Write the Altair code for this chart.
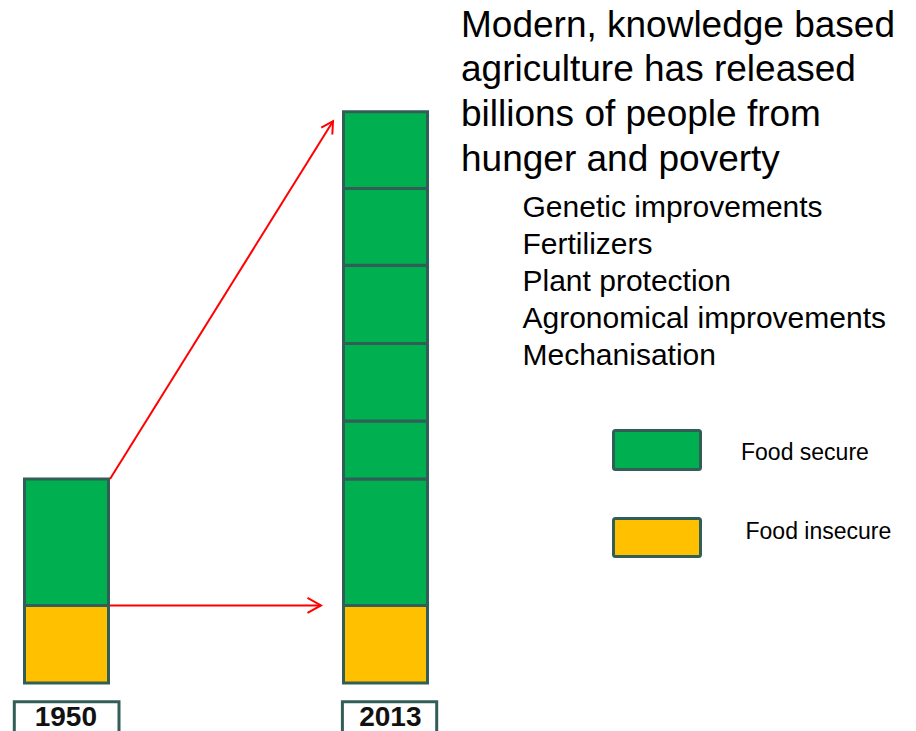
import altair as alt
import pandas as pd

# ---------------- data (billions of people) ----------------
years = ["1950", "2013"]
categories = ["Food secure", "Food insecure"]
food_insecure = [0.95, 0.95]
food_secure_1950 = [1.55]
food_secure_2013 = [1.55, 0.71, 0.95, 0.96, 0.94, 0.94]

title_lines = ["Modern, knowledge based", "agriculture has released",
               "billions of people from", "hunger and poverty"]
factor_lines = ["Genetic improvements", "Fertilizers", "Plant protection",
                "Agronomical improvements", "Mechanisation"]

# ---------------- styles ----------------
COLORS = {"Food secure": "#00B050", "Food insecure": "#FFC000"}
STROKE = "#325E58"
RED = "#FF0000"
FONT = "Liberation Sans"
W, H = 900, 723
CHEVRON = "M-1.8,-1L0,0L-1.8,1"

rows = []
secure_by_year = {"1950": food_secure_1950, "2013": food_secure_2013}
for i, yr in enumerate(years):
    rows.append({"year": yr, "seg": 0, "category": "Food insecure", "value": food_insecure[i]})
    for j, v in enumerate(secure_by_year[yr]):
        rows.append({"year": yr, "seg": j + 1, "category": "Food secure", "value": v})
df = pd.DataFrame(rows)

total_1950 = food_insecure[0] + sum(food_secure_1950)
total_2013 = food_insecure[1] + sum(food_secure_2013)

xs = alt.Scale(type="point", domain=years, range=[58.5, 377.5], padding=0)
ys = alt.Scale(domain=[-0.5882, 8.2721], nice=False, zero=False)

X = lambda f: alt.X(f, scale=xs, axis=None)
Y = lambda f: alt.Y(f, scale=ys, axis=None)

bars = alt.Chart(df).mark_bar(size=84, stroke=STROKE, strokeWidth=3).encode(
    x=X("year:O"),
    y=alt.Y("value:Q", stack="zero", scale=ys, axis=None),
    color=alt.Color("category:N",
                    scale=alt.Scale(domain=categories, range=[COLORS[c] for c in categories]),
                    legend=None),
    order=alt.Order("seg:Q"),
)

# arrows
diag_df = pd.DataFrame({"from": [years[0]], "to": [years[1]], "y1": [total_1950], "y2": [total_2013]})
diag = alt.Chart(diag_df).mark_rule(color=RED, strokeWidth=2, xOffset=43.5, x2Offset=-52.5,
                                    y2Offset=9.4).encode(
    x=X("from:O"), x2=alt.X2("to"), y=Y("y1:Q"), y2=alt.Y2("y2"))
diag_head = alt.Chart(diag_df).mark_point(shape=CHEVRON, filled=False, color=RED, strokeWidth=2,
                                          size=169, angle=302, xOffset=-52.5, yOffset=9.4,
                                          opacity=1).encode(
    x=X("to:O"), y=Y("y2:Q"))

hor_df = pd.DataFrame({"from": [years[0]], "to": [years[1]], "y1": [food_insecure[0]]})
hor = alt.Chart(hor_df).mark_rule(color=RED, strokeWidth=2, xOffset=43.5, x2Offset=-64.5).encode(
    x=X("from:O"), x2=alt.X2("to"), y=Y("y1:Q"))
hor_head = alt.Chart(hor_df).mark_point(shape=CHEVRON, filled=False, color=RED, strokeWidth=2,
                                        size=225, angle=0, xOffset=-64.5, opacity=1).encode(
    x=X("to:O"), y=Y("y1:Q"))

one = pd.DataFrame({"a": [0]})

title = alt.Chart(one).mark_text(align="left", baseline="alphabetic", font=FONT, fontSize=37,
                                 lineHeight=44.7, color="#000000").encode(
    x=alt.value(453), y=alt.value(28.5), text=alt.value(title_lines))
factors = alt.Chart(one).mark_text(align="left", baseline="alphabetic", font=FONT, fontSize=30,
                                   lineHeight=37, color="#000000").encode(
    x=alt.value(514.5), y=alt.value(209), text=alt.value(factor_lines))

# legend
legend_layers = []
legend_geom = {"Food secure": (422.5, 461.5, 733, 452), "Food insecure": (510.5, 548.5, 737.5, 531)}
for cat in categories:
    y0, y1, tx, ty = legend_geom[cat]
    legend_layers.append(alt.Chart(one).mark_rect(fill=COLORS[cat], stroke=STROKE, strokeWidth=3,
                                                  cornerRadius=2).encode(
        x=alt.value(605.5), x2=alt.value(692.5), y=alt.value(y0), y2=alt.value(y1)))
    legend_layers.append(alt.Chart(one).mark_text(align="left", baseline="alphabetic", font=FONT,
                                                  fontSize=23, color="#000000").encode(
        x=alt.value(tx), y=alt.value(ty), text=alt.value(cat)))

# year boxes
box_geom = {"1950": (-52.2, 52.5, -0.7), "2013": (-43.1, 51.2, 4.8)}
year_layers = []
for yr in years:
    lo, ro, dx = box_geom[yr]
    ydf = pd.DataFrame({"year": [yr]})
    year_layers.append(alt.Chart(ydf).mark_rect(fill="white", stroke=STROKE, strokeWidth=3, clip=True,
                                                xOffset=lo, x2Offset=ro).encode(
        x=X("year:O"), x2=alt.X2("year"), y=alt.value(693.7), y2=alt.value(760)))
    year_layers.append(alt.Chart(ydf).mark_text(align="center", baseline="alphabetic", font=FONT,
                                                fontWeight="bold", fontSize=28, dx=dx,
                                                color="#111111").encode(
        x=X("year:O"), y=alt.value(718), text="year:N"))

chart = alt.layer(bars, diag, diag_head, hor, hor_head, title, factors,
                  *legend_layers, *year_layers).properties(
    width=W, height=H, padding=0, autosize=alt.AutoSizeParams(type="none"),
).configure_view(stroke=None)

chart.save("out.html", embed_options={"renderer": "svg", "actions": False})
